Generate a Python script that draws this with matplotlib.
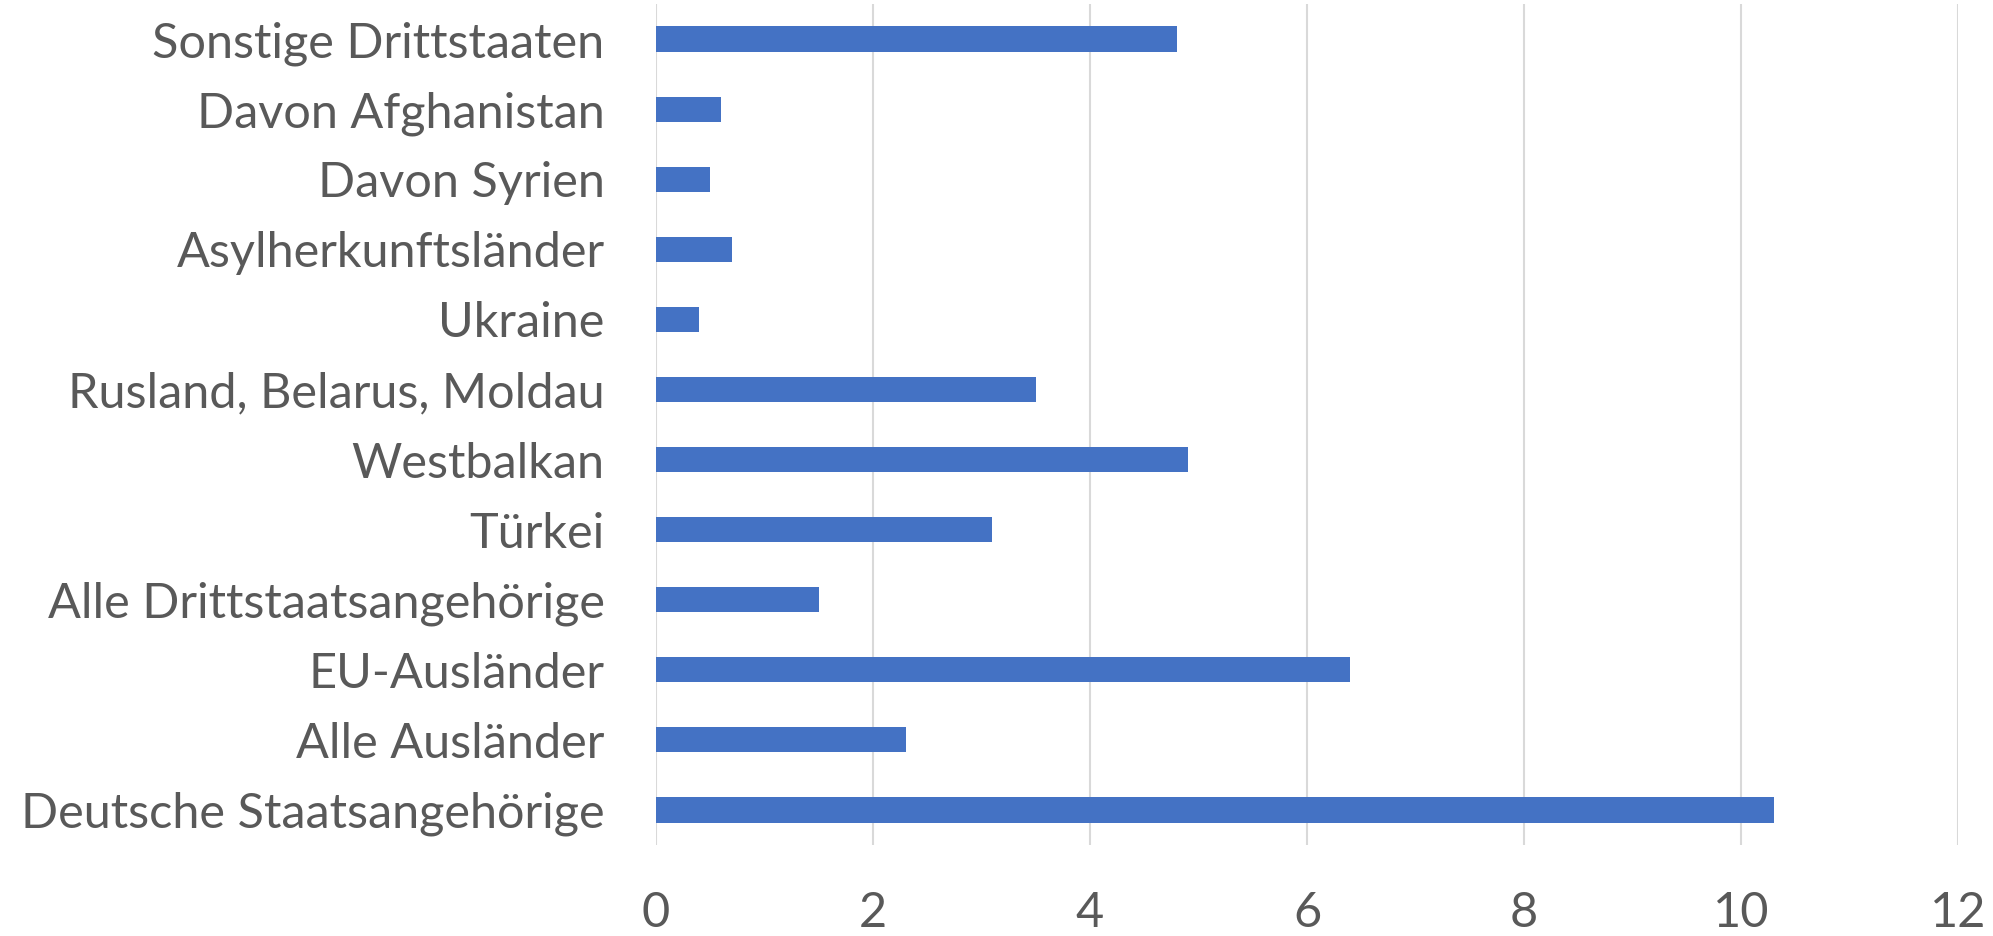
import matplotlib.pyplot as plt

# categories bottom to top, values in %
categories = [
    "Deutsche Staatsangehörige",
    "Alle Ausländer",
    "EU-Ausländer",
    "Alle Drittstaatsangehörige",
    "Türkei",
    "Westbalkan",
    "Rusland, Belarus, Moldau",
    "Ukraine",
    "Asylherkunftsländer",
    "Davon Syrien",
    "Davon Afghanistan",
    "Sonstige Drittstaaten",
]
values = [10.3, 2.3, 6.4, 1.5, 3.1, 4.9, 3.5, 0.4, 0.7, 0.5, 0.6, 4.8]
xticks = [0, 2, 4, 6, 8, 10, 12]

plt.rcParams['font.family'] = ['Lato', 'DejaVu Sans']
text_col = '#595959'

fig = plt.figure(figsize=(19.93, 9.36), dpi=100)
ax = fig.add_axes([656 / 1993, 91 / 936, (1958 - 656) / 1993, (845 - 4) / 936])

ax.barh(range(len(categories)), values, height=0.36, color='#4472C4', zorder=3)
ax.set_ylim(-0.5, len(categories) - 0.5)
ax.set_xlim(0, 12)
ax.set_xticks(xticks)
ax.set_yticks(range(len(categories)))
ax.set_yticklabels(categories)
ax.grid(axis='x', color='#d9d9d9', linewidth=1.5, zorder=0)
for s in ax.spines.values():
    s.set_visible(False)
ax.tick_params(axis='both', length=0, labelsize=35, colors=text_col)
ax.tick_params(axis='y', pad=37)
ax.tick_params(axis='x', pad=33)

fig.savefig('out.png', dpi=100)
